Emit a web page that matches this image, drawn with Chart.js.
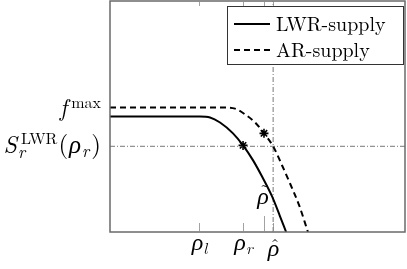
<!DOCTYPE html>
<html>
<head>
<meta charset="utf-8">
<script src="https://cdn.jsdelivr.net/npm/chart.js@4.4.1/dist/chart.umd.min.js"></script>
<style>
  html, body { margin: 0; padding: 0; background: #fff; }
  canvas { display: block; }
</style>
</head>
<body>
<canvas id="supplyChart" width="407" height="269"></canvas>
<script>
// densities (x) and fluxes (y)
const lwrRho  = [0, 0.305, 0.339, 0.373, 0.417, 0.451, 0.485, 0.515, 0.549, 0.576, 0.597];
const lwrFlux = [0.50, 0.50, 0.496, 0.474, 0.427, 0.375, 0.310, 0.241, 0.155, 0.069, 0];
const arRho   = [0, 0.390, 0.424, 0.458, 0.492, 0.522, 0.553, 0.583, 0.610, 0.641, 0.671];
const arFlux  = [0.539, 0.539, 0.534, 0.509, 0.474, 0.427, 0.371, 0.289, 0.211, 0.116, 0];
const markRho  = [0.451, 0.522];
const markFlux = [0.375, 0.427];
const rhoHat = 0.553;
const fMax = 0.539;
const sLwr = 0.371;
const xTicks = [0.30, 0.451, 0.522, 0.553];
const yTicks = [sLwr, fMax];

const FONT = '"Latin Modern Roman", "Liberation Serif", serif';
const GREEK = '"Liberation Serif", serif';

function fontOf(p) {
    return (p.it ? 'italic ' : '') + p.sz + 'px ' + (p.greek ? GREEK : FONT);
}

function partWidth(ctx, p) {
    const items = p.stack || [p];
    return Math.max(...items.map(q => {
        ctx.font = fontOf(q);
        return ctx.measureText(q.t).width + (q.dx || 0) + (q.pad || 0);
    }));
}

function drawMath(ctx, parts, x, y, align) {
    const w = parts.reduce((s, p) => s + partWidth(ctx, p), 0);
    let cx = align === 'right' ? x - w : align === 'center' ? x - w / 2 : x;
    ctx.textBaseline = 'alphabetic';
    ctx.fillStyle = '#000';
    parts.forEach(p => {
        const pw = partWidth(ctx, p);
        (p.stack || [p]).forEach(q => {
            ctx.font = fontOf(q);
            ctx.textAlign = 'left';
            ctx.fillText(q.t, cx + (q.dx || 0), y + (q.dy || 0));
            if (q.acc) {
                ctx.font = '18px ' + FONT;
                ctx.textAlign = 'center';
                ctx.fillText(q.acc, cx + pw / 2 + 1.5, y + q.accDy);
            }
        });
        cx += pw;
    });
}

const rho = { t: 'ρ', sz: 24, it: true, greek: true };
const xLabels = [
    [rho, { t: 'l', sz: 16, it: true, dy: 4 }],
    [rho, { t: 'r', sz: 16, it: true, dy: 4 }],
    null,
    [Object.assign({}, rho, { acc: 'ˆ', accDy: -4 })]
];
const tildeLabel = [Object.assign({}, rho, { acc: '˜', accDy: -7 })];
const yLabels = [
    [{ t: 'S', sz: 24, it: true, pad: 1 },
     { stack: [{ t: 'r', sz: 17, it: true, dy: 5 }, { t: 'LWR', sz: 16, dy: -9, dx: 3, pad: 1 }] },
     { t: '(', sz: 25, pad: 1 }, Object.assign({}, rho, { sz: 25, pad: 1 }),
     { t: 'r', sz: 17, it: true, dy: 4, pad: 2 }, { t: ')', sz: 25 }],
    [{ t: 'f', sz: 24, it: true }, { t: 'max', sz: 16, dy: -8, dx: 4 }]
];

const axesPlugin = {
    id: 'axesPlugin',
    afterDraw(chart) {
        const ctx = chart.ctx;
        const a = chart.chartArea;
        const xs = chart.scales.x, ys = chart.scales.y;
        ctx.save();
        ctx.strokeStyle = '#6a6a6a';
        ctx.lineWidth = 1.5;
        ctx.strokeRect(a.left, a.top, a.right - a.left, a.bottom - a.top);

        ctx.lineWidth = 0.8;
        ctx.strokeStyle = '#8a8a8a';
        xTicks.forEach((v, i) => {
            const px = Math.round(xs.getPixelForValue(v)) + 0.5;
            const len = i === 2 ? 16 : 9;
            ctx.beginPath();
            ctx.moveTo(px, a.bottom); ctx.lineTo(px, a.bottom - len);
            ctx.moveTo(px, a.top); ctx.lineTo(px, a.top + 5);
            ctx.stroke();
            if (xLabels[i]) {
                const base = i === 3 ? 256 : 250;
                drawMath(ctx, xLabels[i], px, base, 'center');
            }
        });
        drawMath(ctx, tildeLabel, xs.getPixelForValue(xTicks[2]) - 1, 204, 'center');

        yTicks.forEach((v, i) => {
            const py = ys.getPixelForValue(v);
            const base = i === 0 ? py + 7 : py + 9;
            drawMath(ctx, yLabels[i], a.left - 9, base, 'right');
        });
        ctx.restore();
    }
};

const legendPlugin = {
    id: 'boxLegend',
    afterDraw(chart) {
        const ctx = chart.ctx;
        const items = chart.data.datasets.filter(d => d.inLegend);
        ctx.save();
        ctx.fillStyle = '#fff';
        ctx.fillRect(227, 6, 176, 58);
        ctx.strokeStyle = '#333';
        ctx.lineWidth = 1;
        ctx.strokeRect(227.5, 6.5, 176, 58);
        items.forEach((d, i) => {
            const y = 24 + i * 26;
            ctx.beginPath();
            ctx.strokeStyle = d.borderColor;
            ctx.lineWidth = d.borderWidth;
            ctx.setLineDash(d.borderDash || []);
            ctx.moveTo(234, y); ctx.lineTo(270, y);
            ctx.stroke();
            ctx.setLineDash([]);
            ctx.fillStyle = '#000';
            ctx.font = '20px ' + FONT;
            ctx.textAlign = 'left';
            ctx.textBaseline = 'alphabetic';
            ctx.fillText(d.label, 276, y + 7);
        });
        ctx.restore();
    }
};

const toPoints = (xs, ys) => xs.map((x, i) => ({ x: x, y: ys[i] }));

new Chart(document.getElementById('supplyChart'), {
    type: 'line',
    data: {
        datasets: [
            {
                label: 'LWR-supply',
                inLegend: true,
                data: toPoints(lwrRho, lwrFlux),
                borderColor: '#000',
                borderWidth: 2,
                pointRadius: 0,
                cubicInterpolationMode: 'monotone'
            },
            {
                label: 'AR-supply',
                inLegend: true,
                data: toPoints(arRho, arFlux),
                borderColor: '#000',
                borderWidth: 2,
                borderDash: [6, 4],
                pointRadius: 0,
                cubicInterpolationMode: 'monotone'
            },
            {
                label: 'level',
                data: [{ x: 0, y: sLwr }, { x: 1, y: sLwr }],
                borderColor: '#555',
                borderWidth: 0.8,
                borderDash: [5, 2, 1, 2],
                pointRadius: 0
            },
            {
                label: 'rho hat',
                data: [{ x: rhoHat, y: 0 }, { x: rhoHat, y: 1 }],
                borderColor: '#555',
                borderWidth: 0.8,
                borderDash: [5, 2, 1, 2],
                pointRadius: 0
            },
            {
                label: 'marks',
                data: toPoints(markRho, markFlux),
                showLine: false,
                pointStyle: 'star',
                pointRadius: 4.5,
                pointBorderWidth: 1.6,
                borderColor: '#000',
                backgroundColor: '#000'
            }
        ]
    },
    options: {
        responsive: false,
        animation: false,
        devicePixelRatio: 1,
        layout: { autoPadding: false, padding: { left: 110, right: 2, top: 1, bottom: 37 } },
        plugins: { legend: { display: false }, tooltip: { enabled: false } },
        scales: {
            x: { type: 'linear', min: 0, max: 1, display: false },
            y: { type: 'linear', min: 0, max: 1, display: false }
        }
    },
    plugins: [axesPlugin, legendPlugin]
});
</script>
</body>
</html>
